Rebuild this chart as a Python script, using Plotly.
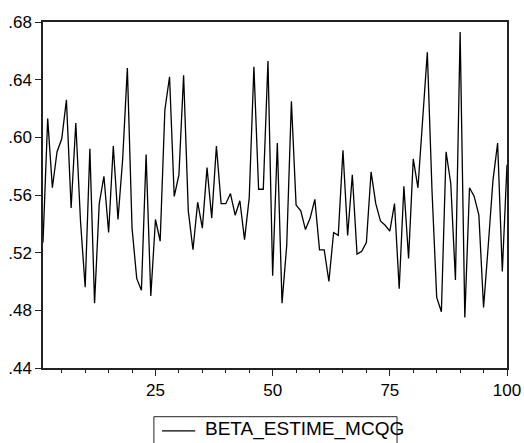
import plotly.graph_objects as go

obs = list(range(1, 101))
beta_estime_mcqg = [
    0.527, 0.613, 0.565, 0.590, 0.599, 0.626, 0.551, 0.610, 0.542, 0.496,
    0.592, 0.485, 0.554, 0.573, 0.534, 0.594, 0.543, 0.585, 0.648, 0.537,
    0.502, 0.494, 0.588, 0.490, 0.543, 0.528, 0.619, 0.642, 0.559, 0.574,
    0.643, 0.549, 0.522, 0.555, 0.537, 0.579, 0.544, 0.594, 0.554, 0.554,
    0.561, 0.546, 0.556, 0.529, 0.558, 0.649, 0.564, 0.564, 0.653, 0.504,
    0.596, 0.485, 0.525, 0.625, 0.553, 0.549, 0.536, 0.544, 0.557, 0.522,
    0.522, 0.500, 0.534, 0.532, 0.591, 0.532, 0.574, 0.519, 0.521, 0.527,
    0.576, 0.554, 0.542, 0.539, 0.535, 0.554, 0.495, 0.566, 0.516, 0.585,
    0.565, 0.615, 0.659, 0.563, 0.489, 0.479, 0.590, 0.568, 0.501, 0.673,
    0.475, 0.565, 0.559, 0.546, 0.482, 0.525, 0.570, 0.596, 0.507, 0.581,
]
series_name = "BETA_ESTIME_MCQG"
y_ticks = [0.44, 0.48, 0.52, 0.56, 0.60, 0.64, 0.68]
y_ticktext = [".44", ".48", ".52", ".56", ".60", ".64", ".68"]
x_ticks = [25, 50, 75, 100]

FONT = "Liberation Sans, Arial, sans-serif"
LINE_COLOR = "#000000"
FRAME = "#222222"

fig = go.Figure()
fig.add_trace(go.Scatter(
    x=obs, y=beta_estime_mcqg, mode="lines", name=series_name,
    line=dict(color=LINE_COLOR, width=1.3), showlegend=False,
))

axis_common = dict(
    showline=True, linecolor=FRAME, linewidth=1.5, mirror=True,
    showgrid=False, zeroline=False, ticks="outside", tickcolor=FRAME,
    tickwidth=1, automargin=False,
    tickfont=dict(family=FONT, size=17, color="#000000"),
)

# legend box drawn below the plot (paper coordinates)
fig.add_shape(type="rect", xref="paper", yref="paper",
              x0=0.239, x1=0.763, y0=-0.1408, y1=-0.26,
              line=dict(color=FRAME, width=1), fillcolor="white", layer="above")
fig.add_shape(type="line", xref="paper", yref="paper",
              x0=0.2565, x1=0.328, y0=-0.182, y1=-0.182,
              line=dict(color=LINE_COLOR, width=1.3))
fig.add_annotation(xref="paper", yref="paper", x=0.347, y=-0.1763,
                   xanchor="left", yanchor="middle", showarrow=False,
                   text=series_name, borderpad=0,
                   font=dict(family=FONT, size=19, color="#000000"))

fig.update_layout(
    width=524, height=443,
    margin=dict(l=43, r=17, t=22, b=75),
    paper_bgcolor="white", plot_bgcolor="white",
    showlegend=False,
    xaxis=dict(range=[1, 100], tickvals=x_ticks, ticklen=6,
               minor=dict(ticks="outside", dtick=5, tick0=0, ticklen=3,
                          tickcolor=FRAME),
               **axis_common),
    yaxis=dict(range=[0.44, 0.68], tickvals=y_ticks, ticktext=y_ticktext,
               ticklen=6, **axis_common),
)

fig.write_html("out.html")
